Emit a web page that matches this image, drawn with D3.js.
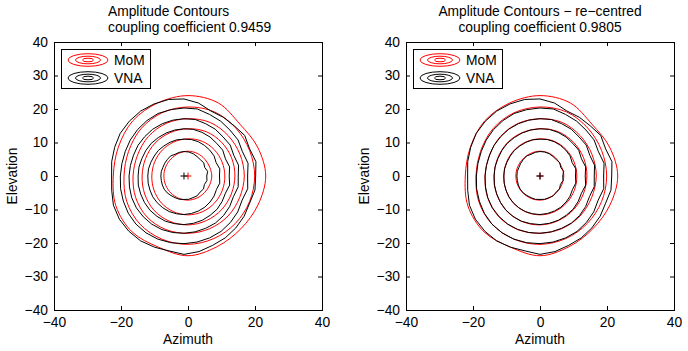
<!DOCTYPE html>
<html>
<head>
<meta charset="utf-8">
<script src="https://cdn.jsdelivr.net/npm/d3@7"></script>
<style>
  body { margin: 0; background: #fff; }
  text { font-family: "Liberation Sans", Arial, Helvetica, sans-serif; }
</style>
</head>
<body>
<div id="chart"></div>
<script>
// axis ticks
const xTicks = [-40, -20, 0, 20, 40]
const yTicks = [-40, -30, -20, -10, 0, 10, 20, 30, 40]

// titles of the two panels
const titleLine1 = ["Amplitude Contours", "Amplitude Contours \u2212 re\u2212centred"]
const titleLine2 = ["coupling coefficient 0.9459", "coupling coefficient 0.9805"]

// contour radii (deg), counter-clockwise from +azimuth
const momAngles = d3.range(0, 360, 22.5)
const vnaAngles = d3.range(0, 360, 11.25)

const momContours = [
  [7.1, 7.0, 7.1, 7.3, 7.4, 7.3, 7.2, 7.2, 7.2, 7.2, 7.2, 7.2, 7.2, 7.1, 7.0, 7.0],
  [11.0, 11.0, 11.1, 11.2, 11.1, 11.0, 10.9, 10.8, 10.8, 11.0, 11.3, 11.5, 11.6, 11.5, 11.3, 11.1],
  [14.0, 14.1, 14.2, 14.3, 14.1, 14.0, 13.9, 13.7, 13.7, 14.0, 14.4, 14.6, 14.6, 14.4, 14.2, 14.0],
  [16.8, 16.8, 17.0, 17.3, 17.1, 17.0, 16.7, 16.3, 16.4, 16.9, 17.3, 17.3, 17.1, 17.0, 16.9, 16.7],
  [19.9, 19.9, 20.2, 20.7, 20.6, 20.4, 19.9, 19.2, 19.1, 19.8, 20.3, 20.4, 20.4, 20.2, 20.0, 19.9],
  [23.2, 22.5, 21.9, 23.6, 24.0, 23.6, 23.3, 22.5, 22.3, 23.3, 23.6, 23.0, 23.8, 22.8, 22.3, 22.6]
]

const vnaContours = [
  [6.8, 7.2, 6.7, 7.1, 6.9, 7.0, 7.2, 7.3, 7.3, 7.2, 7.0, 7.2, 7.0, 6.9, 6.8, 6.9,
   6.9, 6.9, 7.0, 7.1, 7.1, 7.0, 7.0, 7.1, 7.0, 7.1, 7.0, 7.1, 6.8, 7.0, 6.6, 7.0],
  [10.6, 10.9, 10.4, 10.8, 10.9, 11.0, 11.1, 11.1, 11.0, 11.0, 10.9, 10.8, 10.8, 10.7, 10.7, 10.8,
   10.8, 10.9, 11.0, 11.2, 11.3, 11.4, 11.5, 11.5, 11.5, 11.4, 11.3, 11.2, 11.0, 10.8, 10.5, 10.9],
  [13.5, 13.9, 13.4, 13.9, 13.8, 14.0, 14.1, 14.2, 14.1, 14.0, 13.9, 13.8, 13.8, 13.7, 13.6, 13.7,
   13.7, 13.9, 14.0, 14.2, 14.4, 14.5, 14.6, 14.5, 14.5, 14.4, 14.3, 14.1, 14.0, 13.7, 13.4, 13.9],
  [16.2, 16.6, 16.1, 16.6, 16.5, 16.8, 16.9, 17.2, 17.1, 17.0, 16.9, 16.8, 16.6, 16.5, 16.3, 16.3,
   16.4, 16.6, 16.9, 17.1, 17.2, 17.3, 17.3, 17.2, 17.1, 17.0, 16.9, 16.9, 16.7, 16.4, 16.0, 16.5],
  [19.0, 19.5, 18.9, 19.4, 19.4, 19.7, 19.9, 20.4, 20.3, 20.2, 20.2, 19.9, 19.6, 19.3, 19.0, 18.9,
   19.0, 19.3, 19.6, 20.0, 20.3, 20.4, 20.4, 20.3, 20.2, 20.1, 20.0, 19.9, 19.6, 19.3, 18.8, 19.4],
  [21.4, 21.9, 21.2, 21.8, 21.2, 21.1, 21.0, 22.2, 23.0, 23.3, 23.3, 23.3, 23.1, 22.9, 22.4, 22.0,
   21.6, 22.0, 22.8, 23.2, 23.3, 23.3, 23.0, 22.8, 23.4, 23.0, 22.4, 22.2, 21.9, 21.6, 21.2, 21.6]
]

// beam centres [azimuth, elevation]
const momCentre = [0, 0]
const vnaCentre = [[-1.2, 0], [0, 0]]

const width = 688
const height = 351
const fontSize = 13.8

const svg = d3.select("#chart")
  .append("svg")
    .attr("width", width)
    .attr("height", height)

// two panels side by side
const panels = [
  { left: 54, titleX: 108, anchor: "start" },
  { left: 406, titleX: 540, anchor: "middle" }
]
const plotW = 268, plotTop = 42, plotBottom = 310

const fmt = d => d < 0 ? "\u2212" + Math.abs(d) : String(d)

function contourPath(radii, angles, centre, x, y, curve) {
  const pts = radii.map((r, i) => {
    const a = angles[i] * Math.PI / 180
    return [x(centre[0] + r * Math.cos(a)), y(centre[1] + r * Math.sin(a))]
  })
  return d3.line().curve(curve)(pts)
}

function plusPath(cx, cy, s) {
  return `M${cx - s},${cy}H${cx + s}M${cx},${cy - s}V${cy + s}`
}

panels.forEach((p, k) => {
  const x = d3.scaleLinear().domain([-40, 40]).range([p.left, p.left + plotW])
  const y = d3.scaleLinear().domain([-40, 40]).range([plotBottom, plotTop])
  const g = svg.append("g")

  // contours: MoM red, VNA black
  g.append("g").selectAll("path")
    .data(momContours)
    .join("path")
      .attr("d", d => contourPath(d, momAngles, momCentre, x, y, d3.curveCatmullRomClosed))
      .attr("fill", "none")
      .attr("stroke", "#ff0000")
      .attr("stroke-width", 1)

  g.append("g").selectAll("path")
    .data(vnaContours)
    .join("path")
      .attr("d", d => contourPath(d, vnaAngles, vnaCentre[k], x, y, d3.curveLinearClosed))
      .attr("fill", "none")
      .attr("stroke", "#000")
      .attr("stroke-width", 1)

  // centre markers
  g.append("path")
    .attr("d", plusPath(x(momCentre[0]), y(momCentre[1]), 3.5))
    .attr("stroke", "#ff0000").attr("stroke-width", 1)
  g.append("path")
    .attr("d", plusPath(x(vnaCentre[k][0]), y(vnaCentre[k][1]), 3.5))
    .attr("stroke", "#000").attr("stroke-width", 1)

  // axes, ticks pointing inwards on all four sides
  const axB = g.append("g").attr("transform", `translate(0,${plotBottom})`)
    .call(d3.axisBottom(x).tickValues(xTicks).tickFormat(fmt).tickSizeInner(-4).tickSizeOuter(0).tickPadding(7))
  const axL = g.append("g").attr("transform", `translate(${p.left},0)`)
    .call(d3.axisLeft(y).tickValues(yTicks).tickFormat(fmt).tickSizeInner(-4).tickSizeOuter(0).tickPadding(6))
  const axT = g.append("g").attr("transform", `translate(0,${plotTop})`)
    .call(d3.axisTop(x).tickValues(xTicks).tickFormat("").tickSizeInner(-4).tickSizeOuter(0))
  const axR = g.append("g").attr("transform", `translate(${p.left + plotW},0)`)
    .call(d3.axisRight(y).tickValues(yTicks).tickFormat("").tickSizeInner(-4).tickSizeOuter(0))

  ;[axB, axL, axT, axR].forEach(a => {
    a.select(".domain").remove()
    a.selectAll("text").attr("font-size", fontSize).attr("fill", "#000").style("font-family", "Liberation Sans, Arial, sans-serif")
  })

  g.append("rect")
    .attr("x", p.left + 0.5).attr("y", plotTop + 0.5)
    .attr("width", plotW).attr("height", plotBottom - plotTop)
    .attr("fill", "none")
    .attr("stroke", "#000")

  // axis labels
  g.append("text")
    .attr("x", x(0)).attr("y", 344)
    .attr("text-anchor", "middle")
    .attr("font-size", fontSize)
    .text("Azimuth")
  g.append("text")
    .attr("transform", `translate(${p.left - 37},${y(0)}) rotate(-90)`)
    .attr("text-anchor", "middle")
    .attr("font-size", fontSize)
    .text("Elevation")

  // title
  g.append("text")
    .attr("x", p.titleX).attr("y", 16)
    .attr("text-anchor", p.anchor)
    .attr("font-size", fontSize)
    .text(titleLine1[k])
  g.append("text")
    .attr("x", p.titleX).attr("y", 32)
    .attr("text-anchor", p.anchor)
    .attr("font-size", fontSize)
    .text(titleLine2[k])

  // legend
  const lg = g.append("g").attr("transform", `translate(${p.left + 7},49)`)
  lg.append("rect")
    .attr("x", 0.5).attr("y", 0.5)
    .attr("width", 89).attr("height", 39)
    .attr("fill", "#fff").attr("stroke", "#000")
  const entries = [["MoM", "#ff0000", 11], ["VNA", "#000", 29]]
  entries.forEach(([name, col, cy]) => {
    ;[[20, 6.3], [12.5, 3.8], [5.5, 1.8]].forEach(([rx, ry]) => {
      lg.append("ellipse")
        .attr("cx", 27).attr("cy", cy)
        .attr("rx", rx).attr("ry", ry)
        .attr("fill", "none").attr("stroke", col)
    })
    lg.append("text")
      .attr("x", 53).attr("y", cy)
      .attr("dy", "0.35em")
      .attr("font-size", fontSize)
      .text(name)
  })
})
</script>
</body>
</html>
